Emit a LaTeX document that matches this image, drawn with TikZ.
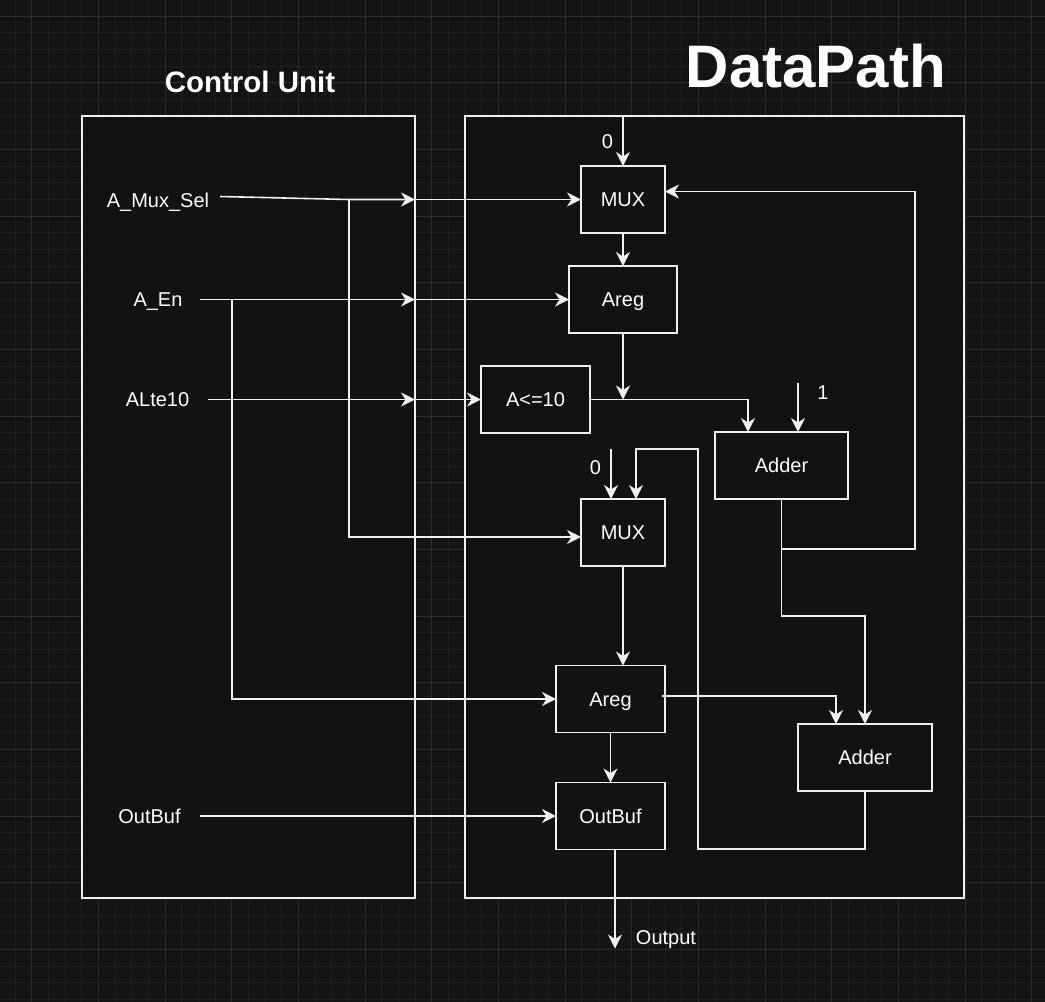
\documentclass[tikz,border=0pt]{standalone}
\usepackage{fontspec}
\setmainfont{Liberation Sans}
\usetikzlibrary{arrows.meta,positioning}

\definecolor{bgcol}{HTML}{141414}
\definecolor{gridminor}{HTML}{1F1F1F}
\definecolor{gridmajor}{HTML}{2C2C2C}
\definecolor{boxfill}{HTML}{121212}
\definecolor{wire}{HTML}{F0F0F0}

\tikzset{
  blk/.style={draw=wire, fill=boxfill, line width=1.7pt, minimum height=67pt, outer sep=0pt,
    text=white, font=\fontsize{20}{24}\selectfont, text height=14.3pt, text depth=0pt, inner sep=0pt},
  lbl/.style={text=white, font=\fontsize{20}{24}\selectfont, text height=14.3pt, text depth=0pt, inner sep=0pt},
  panel/.style={draw=wire, fill=boxfill, line width=1.7pt, inner sep=0pt, outer sep=0pt},
  title/.style={text=white, font=\bfseries\fontsize{#1}{#1}\selectfont, inner sep=0pt}
}

\begin{document}
\begin{tikzpicture} [x=1pt,y=-1pt,color=wire,line width=1.6pt,
    >={Stealth[length=14pt,width=14pt,inset=4.5pt]}]
  \useasboundingbox (0,0) rectangle (1045,1002);
  \fill[bgcol] (0,0) rectangle (1045,1002);
  % grid
  \foreach \i in {0,...,62}
    \draw[gridminor,line width=1pt] ({15+16.667*\i},0) -- ({15+16.667*\i},1002);
  \foreach \j in {0,...,60}
    \draw[gridminor,line width=1pt] (0,{16+16.667*\j}) -- (1045,{16+16.667*\j});
  \foreach \i in {0,...,15}
    \draw[gridmajor,line width=1pt] ({31.67+66.667*\i},0) -- ({31.67+66.667*\i},1002);
  \foreach \j in {0,...,14}
    \draw[gridmajor,line width=1pt] (0,{16+66.667*\j}) -- (1045,{16+66.667*\j});

  \node[title=29.5,text height=21pt] (cutitle) at (250,82) {Control Unit};
  \node[title=60,text height=43pt] (dptitle) at (815.8,65.8) {DataPath};

  \node[panel,minimum width=333pt,minimum height=782pt] (cu) at (248.5,507) {};
  \node[panel,minimum width=499pt,minimum height=782pt] (dp) at (714.5,507) {};

  \node[lbl] (sel) at (158,200) {A\_Mux\_Sel};
  \node[lbl] (en) at (158,299.5) {A\_En};
  \node[lbl] (lte) at (157.5,399.5) {ALte10};
  \node[lbl] (ob) at (149.5,816) {OutBuf};

  \node[blk,minimum width=84pt] (mux1) at (623,199.5) {MUX};
  \node[blk,minimum width=108pt] (areg1) [below=33pt of mux1] {Areg};
  \node[blk,minimum width=109pt] (cmp) at (535.5,399.5) {A<=10};
  \node[blk,minimum width=133pt] (add1) at (781.5,465.5) {Adder};
  \node[blk,minimum width=84pt] (mux2) at (623,532.5) {MUX};
  \node[blk,minimum width=109pt] (areg2) at (610.5,699) {Areg};
  \node[blk,minimum width=134pt] (add2) at (865,757.5) {Adder};
  \node[blk,minimum width=109pt] (obuf) [below=50pt of areg2] {OutBuf};

  \node[lbl] (zeroA) at (607.5,141) {0};
  \node[lbl] (one) at (823,392) {1};
  \node[lbl] (zeroB) at (595.5,467) {0};
  \node[lbl] (out) at (666,937) {Output};

  % control signals
  \coordinate (selout) at (220,196.5);
  \coordinate (selj) at (349,199.5);
  \coordinate (enj) at (232,299.5);
  \draw[->] (selout) -- (selj) -- (cu.east |- mux1.west);
  \draw[->] (cu.east |- mux1.west) -- (mux1.west);
  \draw[->] (selj) |- ([yshift=-4.5pt]mux2.west);
  \draw[->] ([xshift=17pt]en.east) -- (cu.east |- areg1.west);
  \draw[->] (cu.east |- areg1.west) -- (areg1.west);
  \draw[->] (enj) |- (areg2.west);
  \draw[->] ([xshift=18pt]lte.east) -- (cu.east |- cmp.west);
  \draw[->] (cu.east |- cmp.west) -- (cmp.west);
  \draw[->] ([xshift=19pt]ob.east) -- (obuf.west);

  % datapath
  \coordinate (onein) at (798,383);
  \coordinate (zeroin) at (611,449);
  \coordinate (addj) at (781.5,549);
  \coordinate (fb) at (915,191.5);
  \coordinate (loop) at (698,449);
  \path[->]
    (mux1) edge (areg1)
    (areg2) edge (obuf);
  \draw[->] (mux1.north |- dp.north) -- (mux1.north);
  \draw[->] (areg1.south) -- (areg1.south |- cmp.east);
  \draw[->] (cmp.east) -| ([xshift=-33.5pt]add1.north);
  \draw[->] (onein) -- (onein |- add1.north);
  \draw[->] (add1.south) -- (addj) -| (fb) -- (fb -| mux1.east);
  \draw[->] (addj) -- (781.5,616) -| (add2.north);
  \draw[->] ([xshift=-3pt,yshift=3pt]areg2.east) -| ([xshift=-29pt]add2.north);
  \draw[->] (add2.south) -- (865,849) -| (loop) -| ([xshift=13pt]mux2.north);
  \draw[->] (zeroin) -- (zeroin |- mux2.north);
  \draw[->] (mux2.south) -- (mux2.south |- areg2.north);
  \draw[->] ([xshift=4.5pt]obuf.south) -- ++(0,99);
\end{tikzpicture}
\end{document}
